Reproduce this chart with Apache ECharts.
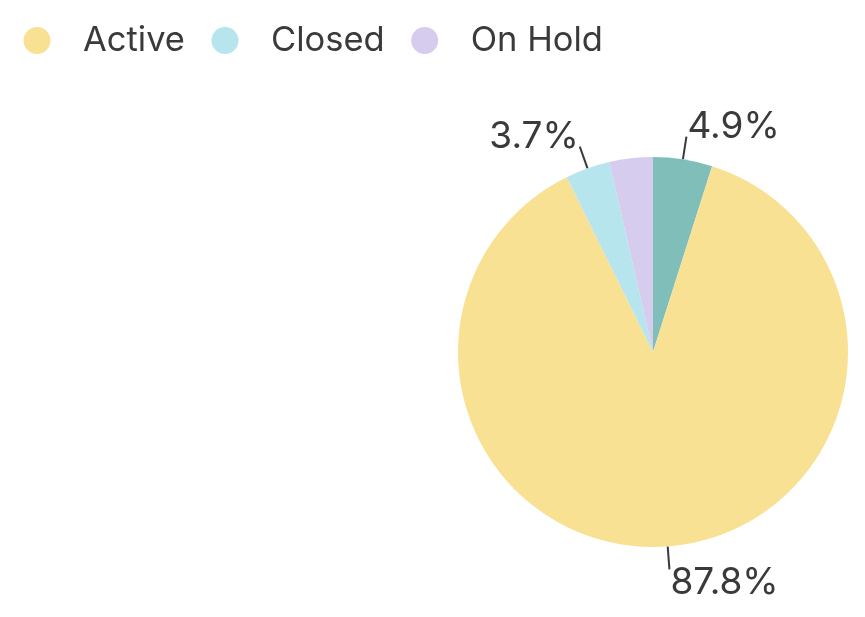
<!DOCTYPE html>
<html>
<head>
<meta charset="utf-8">
<script src="https://cdn.jsdelivr.net/npm/echarts@6/dist/echarts.min.js"></script>
<style>
  html, body { margin: 0; padding: 0; background: #fff; }
  #statusPie { width: 865px; height: 617px; }
</style>
</head>
<body>
<div id="statusPie"></div>
<script>
// slice order runs clockwise from 12 o'clock
const statusNames = ['Other', 'Active', 'Closed', 'On Hold'];
const statusValues = [4.9, 87.8, 3.7, 3.6];
const statusColors = ['#80bfb9', '#f9e193', '#b6e5ee', '#d6cdee'];
const legendNames = ['Active', 'Closed', 'On Hold'];
const hiddenLabels = ['On Hold'];

const statusPieEl = document.getElementById('statusPie');
const statusPieChart = echarts.init(statusPieEl);

const pieData = statusNames.map((name, i) => {
  const shown = hiddenLabels.indexOf(name) < 0;
  return {
    name: name,
    value: statusValues[i],
    itemStyle: { color: statusColors[i] },
    label: { show: shown },
    labelLine: { show: shown }
  };
});

let options = {
  animation: false,
  textStyle: { fontFamily: 'Inter, "Noto Sans", sans-serif' },
  legend: {
    data: legendNames,
    left: 18.5,
    top: 18,
    icon: 'circle',
    itemWidth: 27,
    itemHeight: 27,
    itemGap: 26.5,
    textStyle: {
      fontSize: 34.5,
      color: '#3a3a3a',
      padding: [0, 0, 0, 27.5]
    }
  },
  series: [
    {
      type: 'pie',
      center: [653, 352],
      radius: 195,
      startAngle: 90,
      clockwise: true,
      avoidLabelOverlap: false,
      label: {
        show: true,
        position: 'outside',
        formatter: '{d}%',
        fontSize: 37,
        color: '#3a3a3a',
        distanceToLabelLine: 1
      },
      labelLine: {
        show: true,
        length: 23,
        length2: 0,
        lineStyle: { color: '#3a3a3a', width: 2 }
      },
      // text sits a bit past the end of its line, away from the pie
      labelLayout: function (params) {
        const pts = params.labelLinePoints;
        if (!pts) return {};
        const goingUp = pts[pts.length - 1][1] < pts[0][1];
        return { dy: goingUp ? -10 : 13 };
      },
      data: pieData
    }
  ]
};

statusPieChart.setOption(options);
window.onresize = () => {
  statusPieChart.resize();
};
</script>
</body>
</html>
